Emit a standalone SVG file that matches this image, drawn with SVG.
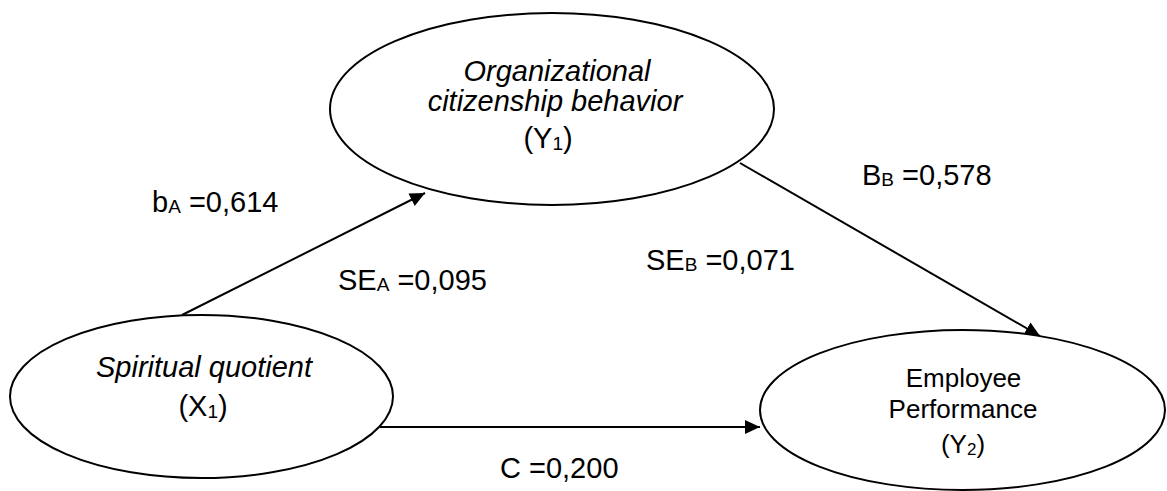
<svg xmlns="http://www.w3.org/2000/svg" width="1167" height="491" viewBox="0 0 1167 491">
<style>
  .node { fill: #ffffff; stroke: #000000; stroke-width: 2; }
  .edge { fill: none; stroke: #000000; stroke-width: 2; }
  text { font-family: "Liberation Sans", Arial, sans-serif; fill: #000000; }
  .big { font-size: 29px; }
  .mid { font-size: 26px; }
  .it { font-style: italic; }
  .c { text-anchor: middle; }
</style>
<defs>
  <marker id="arrow" markerUnits="userSpaceOnUse" markerWidth="16" markerHeight="15" refX="15" refY="7" orient="auto">
    <path d="M0,0 L15,7 L0,14 Z" fill="#000000"/>
  </marker>
</defs>
<rect x="0" y="0" width="1167" height="491" fill="#ffffff"/>

<g id="connectors">
  <line class="edge" x1="182" y1="315" x2="425" y2="193" marker-end="url(#arrow)"/>
  <line class="edge" x1="740" y1="163" x2="1040" y2="336" marker-end="url(#arrow)"/>
  <line class="edge" x1="380" y1="427" x2="760" y2="427" marker-end="url(#arrow)"/>
</g>

<g id="node-ocb">
  <ellipse class="node" cx="552" cy="109" rx="222" ry="96"/>
  <text class="big it c" x="557" y="81">Organizational</text>
  <text class="big it c" x="555" y="111">citizenship behavior</text>
  <text class="big c" x="548" y="148">(Y<tspan font-size="19" dy="2">1</tspan><tspan dy="-2">)</tspan></text>
</g>

<g id="node-sq">
  <ellipse class="node" cx="201.5" cy="396.5" rx="191.5" ry="81.5"/>
  <text class="big it c" x="204" y="377">Spiritual quotient</text>
  <text class="big c" x="203" y="416">(X<tspan font-size="19" dy="2">1</tspan><tspan dy="-2">)</tspan></text>
</g>

<g id="node-ep">
  <ellipse class="node" cx="962.5" cy="410" rx="202.5" ry="80"/>
  <text class="mid c" x="963.5" y="387">Employee</text>
  <text class="mid c" x="963" y="418">Performance</text>
  <text class="mid c" x="963" y="453">(Y<tspan font-size="17" dy="2">2</tspan><tspan dy="-2">)</tspan></text>
</g>

<g id="labels">
  <text class="big" x="152" y="212">b<tspan font-size="19" dy="1">A</tspan><tspan dy="-1"> =0,614</tspan></text>
  <text class="big" x="338" y="290">SE<tspan font-size="19" dy="1">A</tspan><tspan dy="-1"> =0,095</tspan></text>
  <text class="big" x="646" y="270">SE<tspan font-size="19" dy="1">B</tspan><tspan dy="-1"> =0,071</tspan></text>
  <text class="big" x="862" y="185">B<tspan font-size="19" dy="1">B</tspan><tspan dy="-1"> =0,578</tspan></text>
  <text class="big" x="500" y="478">C =0,200</text>
</g>
</svg>
